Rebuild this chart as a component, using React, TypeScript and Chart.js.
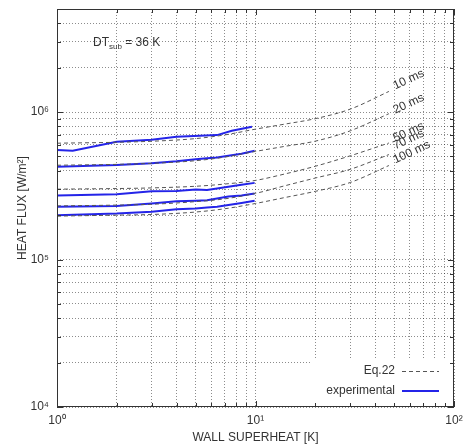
import React, { useEffect, useRef } from 'react';
import { Chart, registerables } from 'chart.js';

Chart.register(...registerables);

// ---------- data ----------
const eqX = [1, 2, 3, 5, 7, 10, 14, 20, 30, 47];
const eq10ms = [6.15e5, 6.24e5, 6.34e5, 6.61e5, 7.0e5, 7.66e5, 8.28e5, 9.02e5, 1.047e6, 1.38e6];
const eq20ms = [4.36e5, 4.42e5, 4.49e5, 4.68e5, 4.95e5, 5.41e5, 5.85e5, 6.35e5, 7.46e5, 9.75e5];
const eq50ms = [3.0e5, 3.03e5, 3.06e5, 3.14e5, 3.25e5, 3.44e5, 3.8e5, 4.29e5, 5.05e5, 6.17e5];
const eq70ms = [2.31e5, 2.34e5, 2.37e5, 2.47e5, 2.58e5, 2.81e5, 3.16e5, 3.57e5, 4.09e5, 5.15e5];
const eq100ms = [1.97e5, 2.0e5, 2.02e5, 2.1e5, 2.21e5, 2.4e5, 2.63e5, 2.9e5, 3.33e5, 4.34e5];

const exp10X = [1, 1.2, 2, 3, 4, 6.4, 7.6, 9.6];
const exp10ms = [5.54e5, 5.46e5, 6.28e5, 6.48e5, 6.8e5, 6.98e5, 7.46e5, 7.94e5];
const expX = [1, 2, 3, 4, 5, 5.7, 6.4, 7.3, 8.5, 9.9];
const exp20ms = [4.25e5, 4.37e5, 4.5e5, 4.64e5, 4.79e5, 4.86e5, 4.92e5, 5.05e5, 5.22e5, 5.46e5];
const exp50ms = [2.72e5, 2.77e5, 2.9e5, 2.92e5, 2.99e5, 2.96e5, 3.03e5, 3.12e5, 3.22e5, 3.31e5];
const exp70ms = [2.28e5, 2.31e5, 2.4e5, 2.48e5, 2.5e5, 2.52e5, 2.59e5, 2.68e5, 2.72e5, 2.8e5];
const exp100ms = [2.0e5, 2.05e5, 2.11e5, 2.19e5, 2.22e5, 2.25e5, 2.28e5, 2.34e5, 2.42e5, 2.5e5];

const curveLabels = ['10 ms', '20 ms', '50 ms', '70 ms', '100 ms'];

const xTicks = [1, 2, 3, 4, 5, 6, 7, 8, 9, 10, 20, 30, 40, 50, 60, 70, 80, 90, 100];
const yTicks = [
  1e4, 2e4, 3e4, 4e4, 5e4, 6e4, 7e4, 8e4, 9e4,
  1e5, 2e5, 3e5, 4e5, 5e5, 6e5, 7e5, 8e5, 9e5,
  1e6, 2e6, 3e6, 4e6, 5e6,
];

const xTitle = 'WALL SUPERHEAT [K]';
const yTitle = 'HEAT FLUX [W/m²]';

// ---------- styles ----------
const FONT = "'Liberation Sans', Arial, sans-serif";
const TEXT = '#333';
const BLUE = 'rgb(36,36,232)';
const DASH = '#555';
const labelDy = [-5, -3, -4, -8, -5];

const SUP = '⁰¹²³⁴⁵⁶⁷⁸⁹';
const isPow10 = (v: number) => {
  const l = Math.log10(v);
  return Math.abs(l - Math.round(l)) < 1e-9;
};
const powLabel = (v: number) => {
  if (!isPow10(v)) return '';
  const e = String(Math.round(Math.log10(v)));
  return '10' + e.split('').map((d) => SUP[Number(d)]).join('');
};

const pts = (xs: number[], ys: number[]) => xs.map((x, i) => ({ x, y: ys[i] }));

const decor = {
  id: 'decor',
  beforeDatasetsDraw(chart: any) {
    const { ctx, chartArea: a } = chart;
    ctx.save();
    ctx.fillStyle = '#fff';
    ctx.fillRect(a.right - 144, a.bottom - 47, 144, 47);
    ctx.restore();
  },
  afterDraw(chart: any) {
    const { ctx, chartArea: a, scales } = chart;
    const xs = scales.x;
    const ys = scales.y;
    const L = Math.round(a.left);
    const R = Math.round(a.right);
    const T = Math.round(a.top);
    const B = Math.round(a.bottom);
    ctx.save();
    // frame
    ctx.strokeStyle = TEXT;
    ctx.lineWidth = 1;
    ctx.setLineDash([]);
    ctx.strokeRect(L + 0.5, T + 0.5, R - L - 1, B - T - 1);
    // inward ticks
    ctx.beginPath();
    xTicks.forEach((v) => {
      const p = Math.round(xs.getPixelForValue(v)) + 0.5;
      const len = isPow10(v) ? 6 : 4;
      ctx.moveTo(p, B);
      ctx.lineTo(p, B - len);
      ctx.moveTo(p, T);
      ctx.lineTo(p, T + len);
    });
    yTicks.forEach((v) => {
      const p = Math.round(ys.getPixelForValue(v)) + 0.5;
      const len = isPow10(v) ? 6 : 4;
      ctx.moveTo(L, p);
      ctx.lineTo(L + len, p);
      ctx.moveTo(R, p);
      ctx.lineTo(R - len, p);
    });
    ctx.stroke();

    // curve labels
    const eqSets = [eq10ms, eq20ms, eq50ms, eq70ms, eq100ms];
    ctx.fillStyle = TEXT;
    ctx.font = `12px ${FONT}`;
    ctx.textAlign = 'left';
    ctx.textBaseline = 'middle';
    eqSets.forEach((ys2, i) => {
      const last = eqX.length - 1;
      const px = xs.getPixelForValue(eqX[last]);
      const py = ys.getPixelForValue(ys2[last]);
      ctx.save();
      ctx.translate(px + 5, py + labelDy[i]);
      ctx.rotate((-25 * Math.PI) / 180);
      ctx.fillText(curveLabels[i], 0, 0);
      ctx.restore();
    });

    // DT_sub annotation
    ctx.textBaseline = 'alphabetic';
    let tx = a.left + 36;
    const ty = a.top + 37;
    ctx.font = `12px ${FONT}`;
    ctx.fillText('DT', tx, ty);
    tx += ctx.measureText('DT').width;
    ctx.font = `8px ${FONT}`;
    ctx.fillText('sub', tx, ty + 3);
    tx += ctx.measureText('sub').width;
    ctx.font = `12px ${FONT}`;
    ctx.fillText(' = 36 K', tx, ty);

    // legend
    ctx.textAlign = 'right';
    ctx.textBaseline = 'middle';
    const lx = a.right - 59;
    const l1 = a.bottom - 36;
    const l2 = a.bottom - 16;
    ctx.fillText('Eq.22', lx, l1);
    ctx.fillText('experimental', lx, l2);
    ctx.strokeStyle = DASH;
    ctx.lineWidth = 1;
    ctx.setLineDash([4, 3]);
    ctx.beginPath();
    ctx.moveTo(a.right - 52, Math.round(l1) + 0.5);
    ctx.lineTo(a.right - 15, Math.round(l1) + 0.5);
    ctx.stroke();
    ctx.setLineDash([]);
    ctx.strokeStyle = BLUE;
    ctx.lineWidth = 2;
    ctx.beginPath();
    ctx.moveTo(a.right - 52, Math.round(l2));
    ctx.lineTo(a.right - 15, Math.round(l2));
    ctx.stroke();
    ctx.restore();
  },
};

export default function App() {
  const ref = useRef<HTMLCanvasElement | null>(null);
  useEffect(() => {
    if (!ref.current) return;
    Chart.defaults.font.family = FONT;
    const eqDs = (ys: number[]) => ({
      data: pts(eqX, ys),
      borderColor: DASH,
      borderWidth: 1,
      borderDash: [4, 3],
      pointRadius: 0,
      fill: false,
      cubicInterpolationMode: 'monotone',
    });
    const exDs = (xs: number[], ys: number[]) => ({
      data: pts(xs, ys),
      borderColor: BLUE,
      borderWidth: 2,
      pointRadius: 0,
      fill: false,
      tension: 0,
    });
    const gridOpts = {
      color: 'rgba(0,0,0,0.45)',
      lineWidth: 1,
      drawTicks: false,
    };
    const chart = new Chart(ref.current, {
      type: 'line',
      data: {
        datasets: [
          eqDs(eq10ms),
          eqDs(eq20ms),
          eqDs(eq50ms),
          eqDs(eq70ms),
          eqDs(eq100ms),
          exDs(exp10X, exp10ms),
          exDs(expX, exp20ms),
          exDs(expX, exp50ms),
          exDs(expX, exp70ms),
          exDs(expX, exp100ms),
        ] as any,
      },
      options: {
        animation: false,
        responsive: false,
        events: [],
        layout: { padding: { left: 15, right: 12, top: 9, bottom: 3 } },
        plugins: { legend: { display: false }, tooltip: { enabled: false } },
        scales: {
          x: {
            type: 'logarithmic',
            min: 1,
            max: 100,
            afterBuildTicks: (s: any) => {
              s.ticks = xTicks.map((v) => ({ value: v, major: isPow10(v) }));
            },
            afterFit: (s: any) => {
              s.height = 38;
              s.paddingLeft = 0;
              s.paddingRight = 0;
              s.paddingTop = 0;
              s.paddingBottom = 0;
            },
            grid: gridOpts,
            border: { display: false, dash: [1, 2] },
            ticks: {
              autoSkip: false,
              maxRotation: 0,
              padding: 6,
              color: TEXT,
              font: { size: 12, family: FONT },
              callback: (v: any) => powLabel(Number(v)),
            },
            title: {
              display: true,
              text: xTitle,
              color: TEXT,
              font: { size: 12, family: FONT },
              padding: 0,
            },
          },
          y: {
            type: 'logarithmic',
            min: 1e4,
            max: 5e6,
            afterBuildTicks: (s: any) => {
              s.ticks = yTicks.map((v) => ({ value: v, major: isPow10(v) }));
            },
            afterFit: (s: any) => {
              s.width = 42;
              s.paddingLeft = 0;
              s.paddingRight = 0;
              s.paddingTop = 0;
              s.paddingBottom = 0;
            },
            grid: gridOpts,
            border: { display: false, dash: [1, 2] },
            ticks: {
              autoSkip: false,
              padding: 8,
              color: TEXT,
              font: { size: 12, family: FONT },
              callback: (v: any) => powLabel(Number(v)),
            },
            title: {
              display: true,
              text: yTitle,
              color: TEXT,
              font: { size: 12, family: FONT },
              padding: 0,
            },
          },
        },
      } as any,
      plugins: [decor],
    });
    return () => chart.destroy();
  }, []);
  return (
    <div style={{ position: 'absolute', left: 0, top: 0, width: 466, height: 448, background: '#fff' }}>
      <canvas ref={ref} width={466} height={448} style={{ display: 'block' }} />
    </div>
  );
}
